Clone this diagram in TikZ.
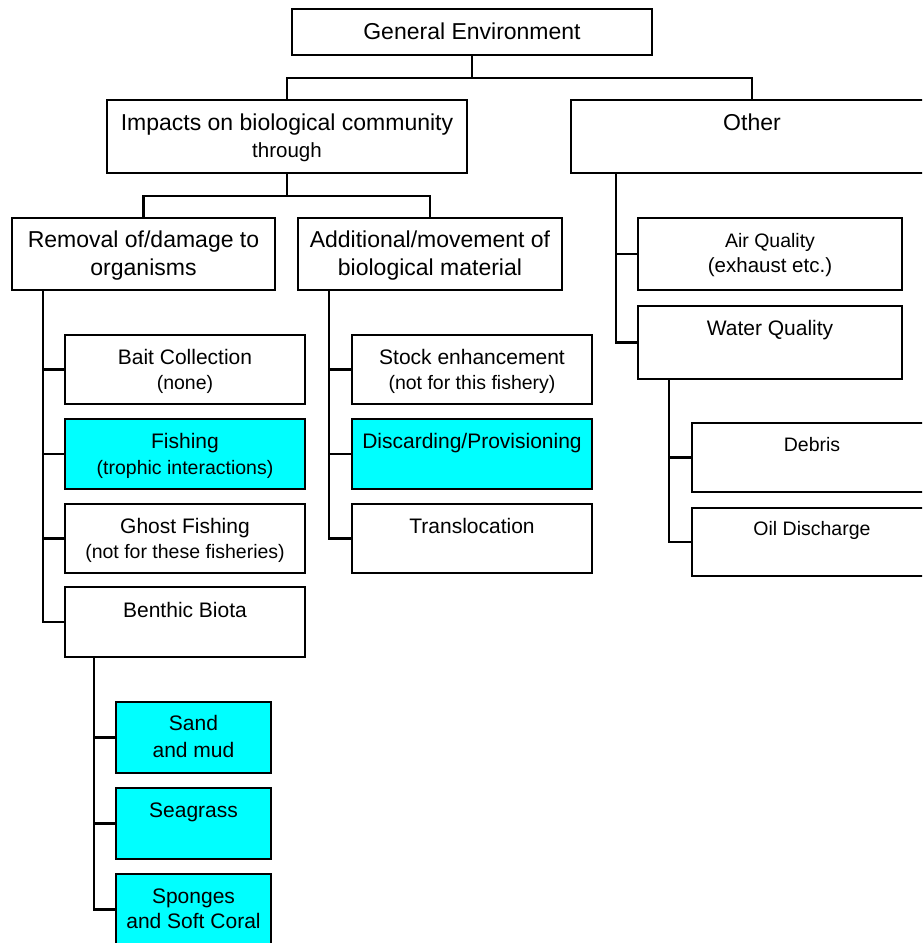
\documentclass[tikz,border=0pt]{standalone}
\usepackage{fontspec}
\setmainfont{Liberation Sans}
\definecolor{aqua}{RGB}{0,255,255}
\begin{document}
\begin{tikzpicture}[x=1pt,y=-1pt, line width=1.8pt,
  box/.style={draw=black, line width=1.8pt, fill=white, inner sep=0pt},
  hi/.style={fill=aqua},
  conn/.style={draw=black, line width=2.2pt, line join=miter, line cap=rect},
  tL/.style={anchor=base, inner sep=0pt, font=\fontsize{23}{27}\selectfont},
  tM/.style={anchor=base, inner sep=0pt, font=\fontsize{21}{25}\selectfont},
  tS/.style={anchor=base, inner sep=0pt, font=\fontsize{19.5}{23}\selectfont},
  tMS/.style={anchor=base, inner sep=0pt, font=\fontsize{20.5}{24}\selectfont}]
\clip (0,0) rectangle (922,943);
\fill[white] (0,0) rectangle (922,943);
% connectors
\coordinate (j1) at (472,78);
\coordinate (j2) at (287,196);
\coordinate (ot) at (616,173);
\coordinate (rt) at (43,290);
\coordinate (at) at (329,290);
\coordinate (wt) at (669,379);
\coordinate (bt) at (94,657);
% boxes
\node[box, minimum width=360pt, minimum height=46pt] (ge) at (472,32) {};
\node[box, minimum width=360pt, minimum height=73pt] (imp) at (287,136.5) {};
\node[box, minimum width=362pt, minimum height=73pt] (oth) at (752,136.5) {};
\node[box, minimum width=263pt, minimum height=72pt] (rem) at (143.5,254) {};
\node[box, minimum width=264pt, minimum height=72pt] (add) at (430,254) {};
\node[box, minimum width=264pt, minimum height=72pt] (air) at (770,254) {};
\node[box, minimum width=264pt, minimum height=73pt] (wat) at (770,342.5) {};
\node[box, minimum width=240pt, minimum height=69pt] (bait) at (185,369.5) {};
\node[box, hi, minimum width=240pt, minimum height=70pt] (fish) at (185,454) {};
\node[box, minimum width=240pt, minimum height=69pt] (ghost) at (185,538.5) {};
\node[box, minimum width=240pt, minimum height=70pt] (benth) at (185,622) {};
\node[box, minimum width=240pt, minimum height=69pt] (stock) at (472,369.5) {};
\node[box, hi, minimum width=240pt, minimum height=70pt] (disc) at (472,454) {};
\node[box, minimum width=240pt, minimum height=69pt] (trans) at (472,538.5) {};
\node[box, minimum width=240pt, minimum height=69pt] (deb) at (812,457.5) {};
\node[box, minimum width=240pt, minimum height=68pt] (oil) at (812,542) {};
\node[box, hi, minimum width=155pt, minimum height=71pt] (sand) at (193.5,737.5) {};
\node[box, hi, minimum width=155pt, minimum height=71pt] (sea) at (193.5,823.5) {};
\node[box, hi, minimum width=155pt, minimum height=71pt] (spon) at (193.5,909.5) {};
% texts
\node[tL] (geT) at (472,39.5) {General Environment};
\node[tL] (impT1) at (287,130) {Impacts on biological community};
\node[tMS] (impT2) at (287,157) {through};
\node[tL] (othT) at (752,130) {Other};
\node[tL] (remT1) at (143.5,247) {Removal of/damage to};
\node[tL] (remT2) at (143.5,275) {organisms};
\node[tL] (addT1) at (430,247) {Additional/movement of};
\node[tL] (addT2) at (430,275) {biological material};
\node[tS] (airT1) at (770,247) {Air Quality};
\node[tMS] (airT2) at (770,272) {(exhaust etc.)};
\node[tM] (watT) at (770,335) {Water Quality};
\node[tM] (baitT1) at (185,364) {Bait Collection};
\node[tS] (baitT2) at (185,389) {(none)};
\node[tM] (fishT1) at (185,448) {Fishing};
\node[tS] (fishT2) at (185,474) {(trophic interactions)};
\node[tM] (ghostT1) at (185,533) {Ghost Fishing};
\node[tS] (ghostT2) at (185,558) {(not for these fisheries)};
\node[tM] (benthT) at (185,617) {Benthic Biota};
\node[tM] (stockT1) at (472,364) {Stock enhancement};
\node[tS] (stockT2) at (472,389) {(not for this fishery)};
\node[tM] (discT) at (472,448) {Discarding/Provisioning};
\node[tM] (transT) at (472,533) {Translocation};
\node[tS] (debT) at (812,451) {Debris};
\node[tS] (oilT) at (812,535) {Oil Discharge};
\node[tM] (sandT1) at (193.5,730) {Sand};
\node[tM] (sandT2) at (193.5,757) {and mud};
\node[tM] (seaT) at (193.5,817) {Seagrass};
\node[tM] (sponT1) at (193.5,903) {Sponges};
\node[tM] (sponT2) at (193.5,928) {and Soft Coral};
% connectors drawn
\draw[conn] (ge.south) -- (j1);
\draw[conn] (j1) -| (imp.north);
\draw[conn] (j1) -| (oth.north);
\draw[conn] (imp.south) -- (j2);
\draw[conn] (j2) -| (rem.north);
\draw[conn] (j2) -| (add.north);
\draw[conn] (ot) |- (air.west);
\draw[conn] (ot) |- (wat.west);
\draw[conn] (rt) |- (bait.west);
\draw[conn] (rt) |- (fish.west);
\draw[conn] (rt) |- (ghost.west);
\draw[conn] (rt) |- (benth.west);
\draw[conn] (at) |- (stock.west);
\draw[conn] (at) |- (disc.west);
\draw[conn] (at) |- (trans.west);
\draw[conn] (wt) |- (deb.west);
\draw[conn] (wt) |- (oil.west);
\draw[conn] (bt) |- (sand.west);
\draw[conn] (bt) |- (sea.west);
\draw[conn] (bt) |- (spon.west);
\end{tikzpicture}
\end{document}
